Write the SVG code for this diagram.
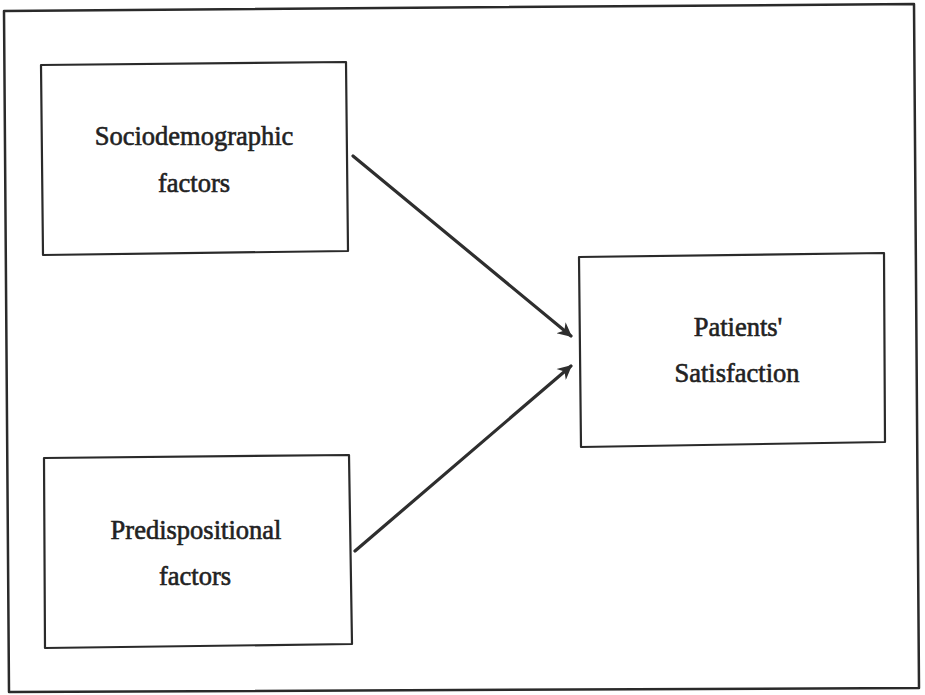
<svg xmlns="http://www.w3.org/2000/svg" width="925" height="695" viewBox="0 0 925 695">
<defs>
<style>
.frame{fill:none;stroke:#2a2a2a;stroke-width:2.5;stroke-linejoin:round}
.box{fill:#fff;stroke:#2a2a2a;stroke-width:2.2;stroke-linejoin:round}
.lbl{font-family:"Liberation Serif","Times New Roman",serif;font-size:26.5px;fill:#222;text-anchor:middle;stroke:#222;stroke-width:0.6}
.edge{fill:none;stroke:#2e2e2e;stroke-width:3.2;stroke-linecap:round}
</style>
<marker id="ah" viewBox="0 0 10 10" refX="9" refY="5" markerWidth="5" markerHeight="4.5" orient="auto" markerUnits="strokeWidth">
<path d="M0,0 L10,5 L0,10 L3,5 Z" fill="#2e2e2e"/>
</marker>
</defs>
<rect width="925" height="695" fill="#fff"/>
<polygon class="frame" points="4,11 914,4 919,688 9,692"/>
<g id="node-sociodemographic">
<polygon class="box" points="41,65 346,62 348,251 43,255"/>
<text class="lbl" x="194" y="145">Sociodemographic</text>
<text class="lbl" x="194" y="192">factors</text>
</g>
<g id="node-predispositional">
<polygon class="box" points="44,458 349,455 352,644 45,648"/>
<text class="lbl" x="196" y="539">Predispositional</text>
<text class="lbl" x="195" y="585">factors</text>
</g>
<g id="node-satisfaction">
<polygon class="box" points="579,257 884,253 885,442 581,447"/>
<text class="lbl" x="738" y="336">Patients'</text>
<text class="lbl" x="737" y="382">Satisfaction</text>
</g>
<g id="connectors">
<line class="edge" x1="353" y1="156" x2="571" y2="336" marker-end="url(#ah)"/>
<line class="edge" x1="355" y1="551" x2="571" y2="366" marker-end="url(#ah)"/>
</g>
</svg>
